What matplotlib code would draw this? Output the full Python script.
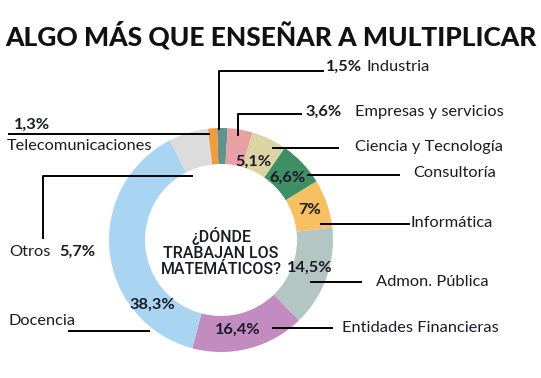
import matplotlib
matplotlib.use("Agg")
import matplotlib.pyplot as plt

# --- data -------------------------------------------------------
sectores = ["Industria", "Empresas y servicios", "Ciencia y Tecnología",
            "Consultoría", "Informática", "Admon. Pública",
            "Entidades Financieras", "Docencia", "Otros", "Telecomunicaciones"]
porcentajes = [1.5, 3.6, 5.1, 6.6, 7.0, 14.5, 16.4, 38.3, 5.7, 1.3]
colores = ["#62928c", "#e8a0a5", "#ddd4a6", "#3f8f65", "#f7c063",
           "#b4c6c4", "#c28cc1", "#a9d5f2", "#dcdcdc", "#f19b40"]

titulo = "ALGO MÁS QUE ENSEÑAR A MULTIPLICAR"
centro_txt = "¿DÓNDE\nTRABAJAN LOS\nMATEMÁTICOS?"

W, H = 541, 378
TXT = "#1b1b26"
FONT = ["Lato", "DejaVu Sans"]
NARROW = ["Roboto", "DejaVu Sans"]


def Y(y):  # pixel row -> data y
    return H - y


def pct(v):
    s = f"{v:.1f}".replace(".", ",")
    return s[:-2] + "%" if s.endswith(",0") else s + "%"


fig = plt.figure(figsize=(W / 100, H / 100), dpi=100)
ax = fig.add_axes([0, 0, 1, 1])

ax.pie(porcentajes, colors=colores, startangle=92, counterclock=False,
       radius=112, center=(221, Y(240)),
       wedgeprops=dict(width=36, edgecolor="none"))
ax.set_xlim(0, W)
ax.set_ylim(0, H)
ax.set_aspect("equal")
ax.axis("off")

# title
ax.text(271, Y(35), titulo, ha="center", va="center", fontsize=19.0,
        fontweight="black", family=FONT, color="#111111")

# center text
ax.text(221, Y(252), centro_txt, ha="center", va="center", fontsize=11.5,
        family=NARROW, fontweight="medium", color=TXT, linespacing=1.05)

# leader lines
lw = 1.4
lineas = [
    ([219, 219, 324], [130, 71, 71]),      # Industria
    ([238, 238, 302], [136, 114, 114]),    # Empresas
    ([272, 339], [148, 148]),              # Ciencia
    ([307, 400], [175, 175]),              # Consultoria
    ([320, 410], [224, 224]),              # Informatica
    ([310, 362], [282, 282]),              # Admon
    ([272, 333], [328, 328]),              # Entidades
    ([68, 150], [331, 331]),               # Docencia
    ([43, 43, 193], [239, 176, 176]),      # Otros
    ([8, 210], [134, 134]),                # Telecom
]
for xs, ys in lineas:
    ax.plot(xs, [Y(v) for v in ys], color="black", lw=lw, solid_capstyle="butt")

p = dict(family=FONT, color=TXT, va="center")
lab = dict(fontsize=11.8, **p)
num = dict(fontsize=11.8, fontweight="bold", **p)

# outside labels with percentage
ax.text(326, Y(67), pct(porcentajes[0]), **num)
ax.text(367, Y(67), sectores[0], **lab)
ax.text(305, Y(112), pct(porcentajes[1]), **num)
ax.text(355, Y(112), sectores[1], **lab)
ax.text(355, Y(147), sectores[2], **lab)
ax.text(413, Y(173), sectores[3], **lab)
ax.text(411, Y(223), sectores[4], **lab)
ax.text(376, Y(282), sectores[5], **lab)
ax.text(342, Y(328), sectores[6], **lab)
ax.text(9, Y(321), sectores[7], **lab)
ax.text(9, Y(252), sectores[8], **lab)
ax.text(59, Y(252), pct(porcentajes[8]), **num)
ax.text(14, Y(125), pct(porcentajes[9]), **num)
ax.text(7, Y(146), sectores[9], **lab)

# percentages inside the ring
dentro = {2: (253, 162), 3: (287, 178), 4: (310, 210), 5: (310, 268),
          6: (238, 330), 7: (152, 305)}
for i, (x, y) in dentro.items():
    ax.text(x, Y(y), pct(porcentajes[i]), ha="center", fontsize=11.8,
            fontweight="bold", family=FONT, color=TXT, va="center")

fig.savefig("out.png", dpi=100, facecolor="white")
